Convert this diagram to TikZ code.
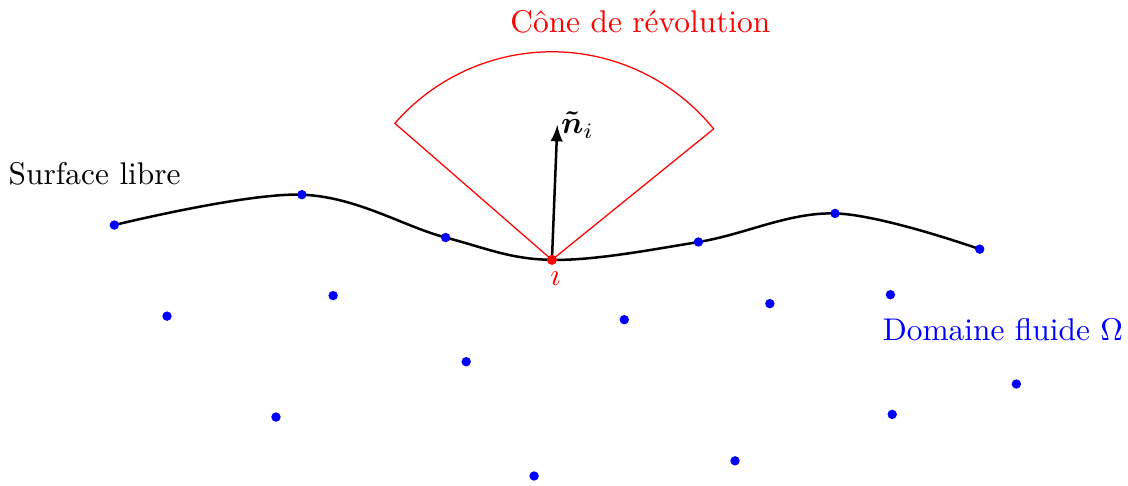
\documentclass[tikz,border=0pt]{standalone}
\usepackage{amsmath}
\begin{document}
\begin{tikzpicture}[
  particle/.style={fill=blue},
  cone/.style={red, line width=0.4pt}
]
  \useasboundingbox (0,0) rectangle (12.63,5.44);

  % Surface libre
  \draw[thick] plot[smooth, tension=0.6]
    coordinates {(1.28,2.92) (3.38,3.26) (4.99,2.78) (6.18,2.53)
      (7.82,2.73) (9.35,3.05) (10.97,2.65)};
  \foreach \p in {(1.28,2.92), (3.38,3.26), (4.99,2.78), (7.82,2.73),
      (9.35,3.05), (10.97,2.65)}
    \fill[particle] \p circle (1.5pt);
  \node (surf) at (1.06, 3.49) {Surface libre};

  % Particule i et cone
  \coordinate (i) at (6.18, 2.53);
  \coordinate (ntip) at (6.24, 4.04);
  \draw[cone] (i) -- ++(139:2.33) arc (139:39:2.33) -- cycle;
  \draw[thick, -latex] (i) -- (ntip);
  \node[right, inner sep=1pt] (nlabel) at (ntip) {$\boldsymbol{\tilde{n}}_i$};
  \fill[red] (i) circle (1.6pt);
  \node[below, red, inner sep=3.5pt] (ilabel) at (6.22, 2.53) {$\imath$};
  \node[red] (conelabel) at (7.17, 5.20) {Cône de révolution};

  % Domaine fluide
  \foreach \p in {(1.87,1.90), (3.73,2.13), (3.09,0.77), (5.22,1.39),
      (5.98,0.11), (6.99,1.86), (8.23,0.28), (8.62,2.04), (9.97,2.14),
      (9.99,0.80), (11.38,1.14)}
    \fill[particle] \p circle (1.5pt);
  \node[blue] (fluid) at (11.23, 1.75) {Domaine fluide $\Omega$};
\end{tikzpicture}
\end{document}
